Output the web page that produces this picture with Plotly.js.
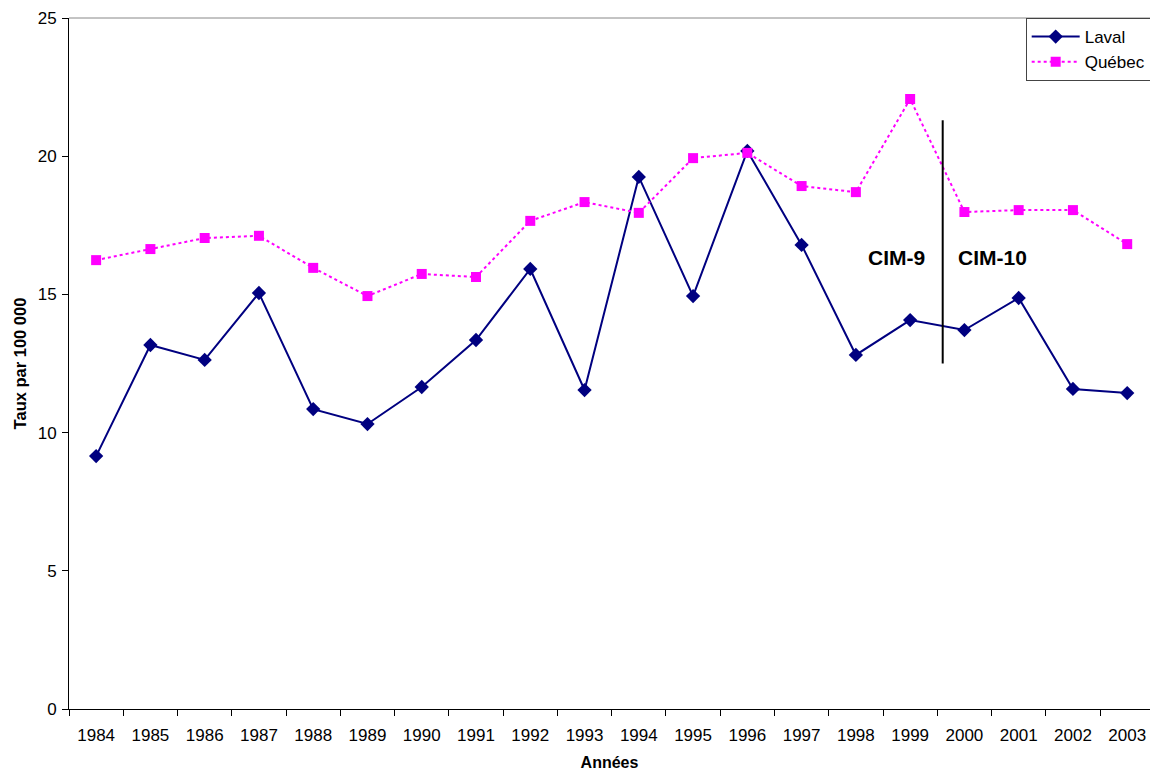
<!DOCTYPE html>
<html>
<head>
<meta charset="utf-8">
<script src="https://cdn.plot.ly/plotly-3.0.1.min.js"></script>
<style>html,body{margin:0;padding:0;background:#fff;}#chart{width:1150px;height:771px;}</style>
</head>
<body>
<div id="chart"></div>
<script>
const years = ["1984","1985","1986","1987","1988","1989","1990","1991","1992","1993","1994","1995","1996","1997","1998","1999","2000","2001","2002","2003"];
const laval = [9.15,13.17,12.63,15.05,10.85,10.31,11.65,13.35,15.92,11.54,19.25,14.94,20.19,16.79,12.81,14.07,13.71,14.87,11.58,11.43];
const quebec = [16.24,16.64,17.04,17.12,15.96,14.94,15.74,15.63,17.66,18.34,17.95,19.93,20.12,18.92,18.70,22.07,17.98,18.05,18.05,16.82];
const yTicks = [0,5,10,15,20,25];

const traces = [
  {x: years, y: laval, name: "Laval", type: "scatter", mode: "lines+markers",
   line: {color: "#000080", width: 2}, marker: {symbol: "diamond", size: 11, color: "#000080"}},
  {x: years, y: quebec, name: "Québec", type: "scatter", mode: "lines+markers",
   line: {color: "#FF00FF", width: 2, dash: "dot"}, marker: {symbol: "square", size: 10, color: "#FF00FF"}}
];

const layout = {
  width: 1150, height: 771,
  margin: {l: 69, r: 0, t: 18, b: 62, autoexpand: false},
  paper_bgcolor: "#fff", plot_bgcolor: "#fff",
  font: {family: "Liberation Sans, Arial, sans-serif", size: 17, color: "#000"},
  showlegend: true,
  legend: {x: 0.885, xanchor: "left", y: 1.0, yanchor: "top", bordercolor: "#444", borderwidth: 1,
           bgcolor: "#fff", font: {size: 17}, tracegroupgap: 0, itemwidth: 48},
  xaxis: {type: "category", tickson: "boundaries", ticks: "outside", ticklen: 6, tickcolor: "#000",
          showline: true, linecolor: "#000", linewidth: 1, showgrid: false, zeroline: false,
          tickfont: {size: 17}, range: [-0.5, 19.42], ticklabelstandoff: 11, automargin: false,
          title: {text: "<b>Années</b>", font: {size: 16}, standoff: 15}},
  yaxis: {range: [0, 25], tickvals: yTicks, ticks: "outside", ticklen: 6, tickcolor: "#000",
          showline: true, linecolor: "#000", linewidth: 1, showgrid: false, zeroline: false,
          tickfont: {size: 17}, ticklabelstandoff: 2, automargin: false,
          title: {text: "<b>Taux par 100 000</b>", font: {size: 16.5}, standoff: 6}},
  shapes: [
    {type: "line", xref: "paper", yref: "paper", x0: 0, x1: 1, y0: 1, y1: 1, line: {color: "#888", width: 1}},
    {type: "line", xref: "x", yref: "y", x0: 15.6, x1: 15.6, y0: 12.5, y1: 21.3, line: {color: "#000", width: 2}}
  ],
  annotations: [
    {x: 14.75, y: 16.35, xref: "x", yref: "y", text: "<b>CIM-9</b>", showarrow: false, font: {size: 21}},
    {x: 16.52, y: 16.35, xref: "x", yref: "y", text: "<b>CIM-10</b>", showarrow: false, font: {size: 21}}
  ]
};

Plotly.newPlot("chart", traces, layout, {displayModeBar: false, staticPlot: true});
</script>
</body>
</html>
